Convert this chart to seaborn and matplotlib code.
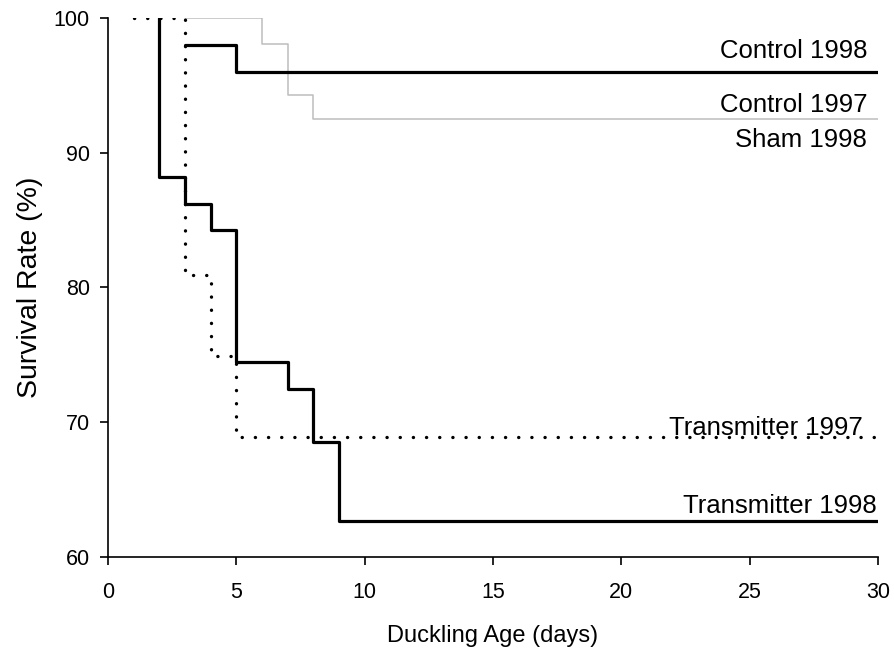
import matplotlib
matplotlib.use("Agg")
import matplotlib.pyplot as plt
import seaborn as sns
import pandas as pd

sns.set_theme(style="ticks")
plt.rcParams['font.family'] = ['Liberation Sans', 'DejaVu Sans']
plt.rcParams['text.color'] = 'black'
plt.rcParams['axes.labelcolor'] = 'black'

# Data
t98_days = [2, 2, 3, 4, 5, 7, 8, 9, 30]
t98_surv = [100, 88.2, 86.2, 84.3, 74.5, 72.5, 68.5, 62.7, 62.7]

t97_days = [1, 3, 4, 5, 30]
t97_surv = [100, 80.9, 74.9, 68.9, 68.9]

c98_days = [3, 5, 30]
c98_surv = [98.0, 96.0, 96.0]

c97_days = [3, 6, 7, 8, 30]
c97_surv = [100, 98.1, 94.3, 92.5, 92.5]

labels = ["Control 1998", "Control 1997", "Sham 1998", "Transmitter 1997", "Transmitter 1998"]
label_y = [97.03, 93.05, 90.45, 69.05, 63.27]
label_x = [29.6, 29.6, 29.58, 29.42, 29.97]

fig = plt.figure(figsize=(8.94, 6.52), dpi=100)
ax = fig.add_axes([0.1208, 0.1457, 0.982 - 0.1208, 0.9724 - 0.1457])

def df_of(days, surv):
    return pd.DataFrame({"day": list(days), "surv": list(surv)})

# Gray Control 1997 / Sham 1998
sns.lineplot(data=df_of(c97_days, c97_surv), x="day", y="surv", ax=ax, sort=False,
             drawstyle="steps-post", estimator=None, color="#bdbdbd", lw=1.1)
# Transmitter 1997 dotted
sns.lineplot(data=df_of(t97_days, t97_surv), x="day", y="surv", ax=ax, sort=False,
             drawstyle="steps-post", estimator=None, color="black", lw=2.4,
             linestyle=(0, (0.05, 3.9)), dash_capstyle="round")
# Control 1998
sns.lineplot(data=df_of(c98_days, c98_surv), x="day", y="surv", ax=ax, sort=False,
             drawstyle="steps-post", estimator=None, color="black", lw=2.3)
# Transmitter 1998
sns.lineplot(data=df_of(t98_days, t98_surv), x="day", y="surv", ax=ax, sort=False,
             drawstyle="steps-post", estimator=None, color="black", lw=2.3)

for lab, lx, ly in zip(labels, label_x, label_y):
    ax.text(lx, ly, lab, ha="right", va="baseline", fontsize=18.5, color="black")

ax.set_xlim(0, 30)
ax.set_ylim(60, 100)
ax.set_xticks([0, 5, 10, 15, 20, 25, 30])
ax.set_yticks([60, 70, 80, 90, 100])
ax.set_xlabel("Duckling Age (days)", fontsize=17, labelpad=16, color="black")
ax.set_ylabel("Survival Rate (%)", fontsize=20.5, labelpad=8, color="black")
ax.tick_params(axis="both", labelsize=15.5, direction="out", length=6, width=1.2,
               colors="black")
ax.tick_params(axis="x", pad=12)
ax.tick_params(axis="y", pad=7)
for sp in ["top", "right"]:
    ax.spines[sp].set_visible(False)
for sp in ["left", "bottom"]:
    ax.spines[sp].set_color("black")
    ax.spines[sp].set_linewidth(1.2)
ax.grid(False)

fig.savefig("out.png", dpi=100)
